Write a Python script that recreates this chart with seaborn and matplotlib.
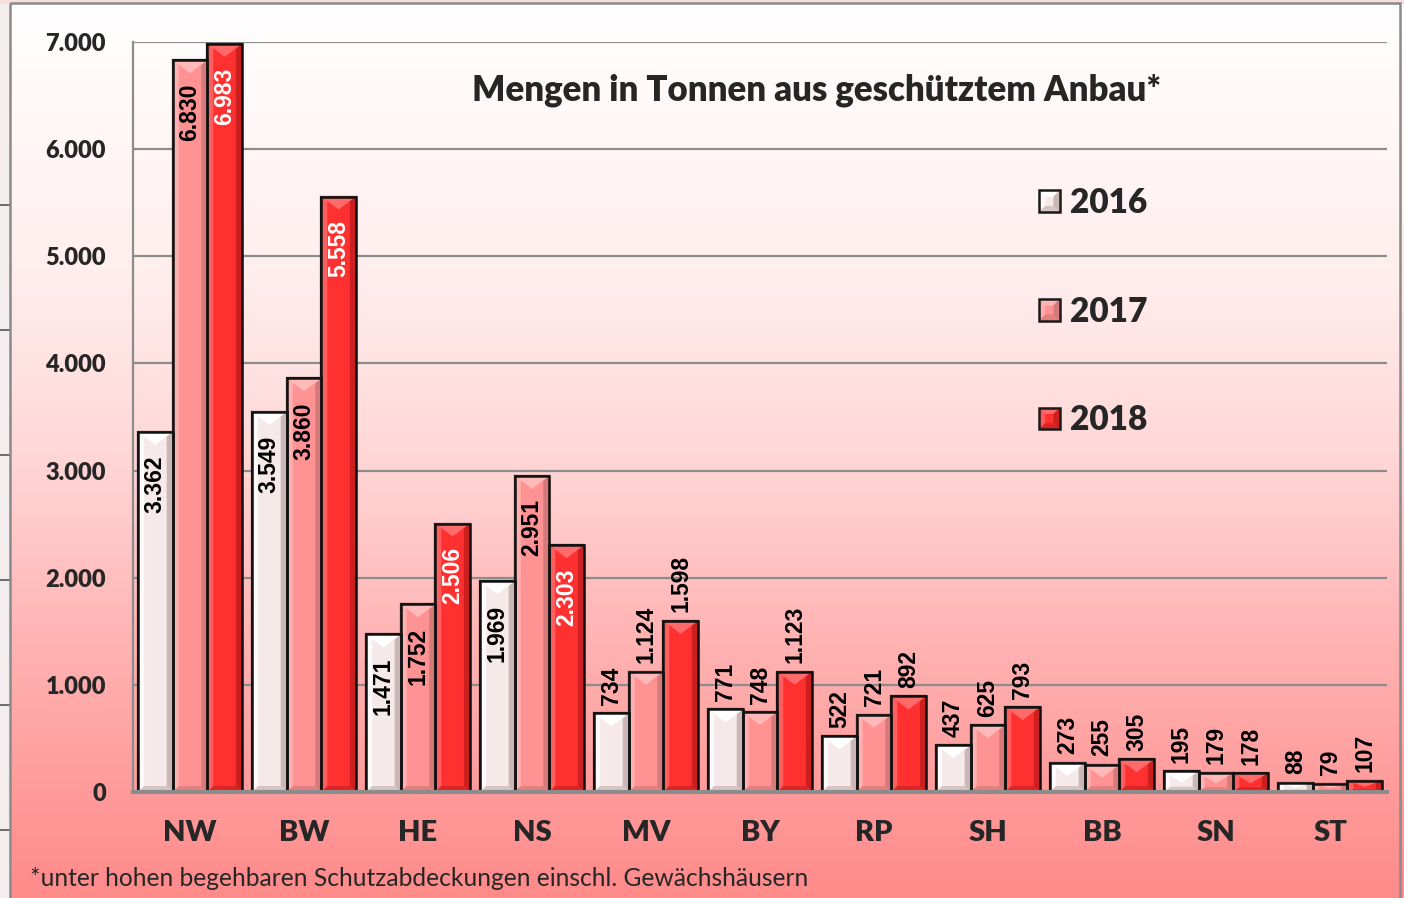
import numpy as np
import pandas as pd
import seaborn as sns
import matplotlib.pyplot as plt
from matplotlib.colors import LinearSegmentedColormap
from matplotlib.patches import Polygon, Rectangle
from matplotlib.legend_handler import HandlerBase

sns.set_style("white")
plt.rcParams['font.family'] = ['Lato', 'DejaVu Sans']

# data
regions = ["NW", "BW", "HE", "NS", "MV", "BY", "RP", "SH", "BB", "SN", "ST"]
years = ["2016", "2017", "2018"]
v2016 = [3362, 3549, 1471, 1969, 734, 771, 522, 437, 273, 195, 88]
v2017 = [6830, 3860, 1752, 2951, 1124, 748, 721, 625, 255, 179, 79]
v2018 = [6983, 5558, 2506, 2303, 1598, 1123, 892, 793, 305, 178, 107]
inside_regions = ["NW", "BW", "HE", "NS"]
yticks = [0, 1000, 2000, 3000, 4000, 5000, 6000, 7000]
title = "Mengen in Tonnen aus geschütztem Anbau*"
footnote = "*unter hohen begehbaren Schutzabdeckungen einschl. Gewächshäusern"

df = pd.DataFrame({"region": regions * 3,
                   "year": np.repeat(years, len(regions)),
                   "value": v2016 + v2017 + v2018})

# base, light, dark
styles = {"2016": ("#f5e9e9", "#ffffff", "#cbb6b6"),
          "2017": ("#ff9292", "#ffb9b9", "#d67979"),
          "2018": ("#ff3030", "#ff6a6a", "#cc1f1f")}
label_colors = {"2016": "black", "2017": "black", "2018": "white"}
HEAVY = 800


class BevelKey:
    def __init__(self, colors):
        self.colors = colors


class BevelHandler(HandlerBase):
    def create_artists(self, legend, orig_handle, xdescent, ydescent, width, height, fontsize, trans):
        base, light, dark = orig_handle.colors
        xa, ya = -xdescent, -ydescent
        xb, yb = xa + width, ya + height
        d = 0.3 * width
        arts = [Rectangle((xa, ya), width, height, facecolor=base, edgecolor="none"),
                Polygon([(xa, yb), (xb, yb), (xb - d, yb - d), (xa + d, yb - d)], facecolor=light, edgecolor="none"),
                Polygon([(xa, ya), (xa, yb), (xa + d, yb - d), (xa + d, ya + d)], facecolor=light, edgecolor="none", alpha=0.7),
                Polygon([(xb, ya), (xb, yb), (xb - d, yb - d), (xb - d, ya + d)], facecolor=dark, edgecolor="none"),
                Polygon([(xa, ya), (xb, ya), (xb - d, ya + d), (xa + d, ya + d)], facecolor=dark, edgecolor="none", alpha=0.7),
                Rectangle((xa, ya), width, height, fill=False, edgecolor="#1a1a1a", lw=1.8)]
        for a in arts:
            a.set_transform(trans)
        return arts


W, H = 1404, 898
fig = plt.figure(figsize=(W / 100, H / 100), dpi=100)

# background
bg = fig.add_axes([0, 0, 1, 1], zorder=-10)
bg.set_axis_off()
cmap = LinearSegmentedColormap.from_list(
    "bg", [(0, "#ffffff"), (0.3, "#ffeeee"), (0.5, "#ffd8d8"), (0.72, "#ffb2b2"), (1, "#ff8a8a")])
bg.imshow(np.linspace(0, 1, 256).reshape(-1, 1), cmap=cmap, aspect="auto", extent=[0, W, H, 0])
bg.add_patch(Rectangle((0, 0), 10, H, color="#f3eded", zorder=2))
bg.add_patch(Rectangle((0, 0), W, 3, color="#f6dede", zorder=2))
for yy in [205, 330, 455, 580, 705, 830]:
    bg.plot([0, 10], [yy, yy], color="#555555", lw=1.2, zorder=3)
bg.add_patch(Rectangle((10, 3), W - 14, H, fill=False, edgecolor="#8a8a8a", lw=1.8, zorder=3))
bg.set_xlim(0, W)
bg.set_ylim(H, 0)

x0px, x1px, y0px, y1px = 133, 1387, 792, 42
ax = fig.add_axes([x0px / W, 1 - y0px / H, (x1px - x0px) / W, (y0px - y1px) / H])
ax.set_facecolor("none")

sns.barplot(data=df, x="region", y="value", hue="year",
            palette={y: styles[y][0] for y in years}, width=0.91, saturation=1,
            edgecolor="#1a1a1a", linewidth=1.6, ax=ax, zorder=3)
ax.legend_.remove()
ax.set_xlim(-0.5, len(regions) - 0.5)
ax.set_ylim(0, 7000)

px_x = len(regions) / (x1px - x0px)
px_y = 7000 / (y0px - y1px)

# bevel look on the bars
all_vals = {"2016": v2016, "2017": v2017, "2018": v2018}
for year, cont in zip(years, ax.containers):
    base, light, dark = styles[year]
    for region, bar, v in zip(regions, cont, all_vals[year]):
        xa = bar.get_x()
        w = bar.get_width()
        xb = xa + w
        xc = xa + w / 2
        h = bar.get_height()
        bx = 6 * px_x
        bt = min(13 * px_y, h * 0.55)
        bb = min(6 * px_y, h * 0.25)
        yt = h - bt * bx / (w / 2)
        ax.add_patch(Polygon([(xa, 0), (xa, h), (xa + bx, yt), (xa + bx, bb)],
                             facecolor=light, edgecolor="none", zorder=3.2, alpha=0.8))
        ax.add_patch(Polygon([(xb, 0), (xb, h), (xb - bx, yt), (xb - bx, bb)],
                             facecolor=dark, edgecolor="none", zorder=3.2))
        ax.add_patch(Polygon([(xa, 0), (xb, 0), (xb - bx, bb), (xa + bx, bb)],
                             facecolor=dark, edgecolor="none", zorder=3.2, alpha=0.7))
        ax.add_patch(Polygon([(xa, h), (xb, h), (xc, h - bt)],
                             facecolor=light, edgecolor="none", zorder=3.3))
        ax.add_patch(Rectangle((xa, 0), w, h, fill=False, edgecolor="#111111", lw=1.8, zorder=3.5))

        txt = f"{v:,}".replace(",", ".")
        if region in inside_regions:
            ax.annotate(txt, (xc, h), xytext=(0, -17), textcoords="offset points",
                        rotation=90, ha="center", va="top", color=label_colors[year],
                        fontsize=16.5, fontweight="bold", family="Liberation Sans", zorder=5)
        else:
            ax.annotate(txt, (xc, h), xytext=(0, 6), textcoords="offset points",
                        rotation=90, ha="center", va="bottom", color="black",
                        fontsize=16.5, fontweight="bold", family="Liberation Sans", zorder=5)

# axes styling
ax.set_yticks(yticks)
ax.set_yticklabels([f"{t:,}".replace(",", ".") for t in yticks], fontsize=17, fontweight=HEAVY)
ax.set_xticks(range(len(regions)))
ax.set_xticklabels(regions, fontsize=21, fontweight=HEAVY)
ax.set_xticks(np.arange(-0.5, len(regions), 1), minor=True)
ax.set_xlabel("")
ax.set_ylabel("")
ax.yaxis.grid(True, color="#8c8c8c", lw=1.6)
ax.set_axisbelow(True)
for s in ["top", "right"]:
    ax.spines[s].set_visible(False)
ax.spines["left"].set_color("#8c8c8c")
ax.spines["left"].set_linewidth(1.6)
ax.spines["bottom"].set_color("#8c8c8c")
ax.spines["bottom"].set_linewidth(3)
ax.spines["bottom"].set_zorder(4)
ax.tick_params(axis="y", length=7, direction="inout", color="#8c8c8c", width=1.5, pad=16)
ax.tick_params(axis="x", which="major", length=0, pad=20)
ax.tick_params(axis="x", which="minor", length=6, direction="out", color="#8c8c8c", width=1.8)

# legend
handles = [BevelKey(styles[y]) for y in years]
leg = fig.legend(handles, years, loc="upper left", bbox_to_anchor=(1039 / W, 1 - 187 / H),
                 frameon=False, prop={"size": 24, "weight": HEAVY},
                 handler_map={BevelKey: BevelHandler()},
                 handlelength=0.62, handleheight=0.62, handletextpad=0.3,
                 labelspacing=2.3, borderpad=0, borderaxespad=0)

fig.text(817 / W, 1 - 90 / H, title, ha="center", va="center", fontsize=25, fontweight=HEAVY)
fig.text(30 / W, 1 - 879 / H, footnote, ha="left", va="center", fontsize=17.7)

fig.savefig("out.png", dpi=100)
